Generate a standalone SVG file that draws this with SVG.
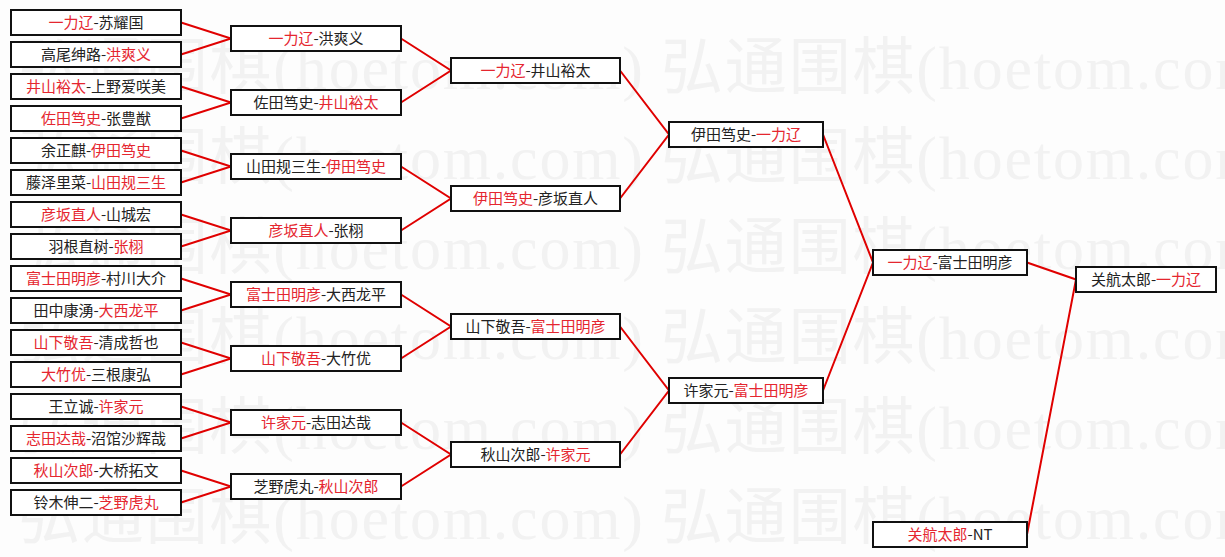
<svg xmlns="http://www.w3.org/2000/svg" width="1225" height="557" viewBox="0 0 1225 557">
<style>
.bg{fill:#fdfdfd}
.wm{font-family:"Liberation Serif","Noto Sans CJK SC",serif;font-size:62px;fill:#f2f2f2}
.box{fill:#ffffff;stroke:#111111;stroke-width:2}
.t{font-family:"Noto Sans CJK SC","Noto Sans CJK JP",sans-serif;font-size:15px;fill:#222222;text-anchor:middle}
.r{fill:#e5262f}
.ln{stroke:#e00000;stroke-width:2;fill:none}
</style>
<rect class="bg" x="0" y="0" width="1225" height="557"/>
<g id="watermark">
<text class="wm" x="18" y="89" textLength="625" lengthAdjust="spacing">弘通围棋(hoetom.com)</text>
<text class="wm" x="661" y="89" textLength="625" lengthAdjust="spacing">弘通围棋(hoetom.com)</text>
<text class="wm" x="18" y="179" textLength="625" lengthAdjust="spacing">弘通围棋(hoetom.com)</text>
<text class="wm" x="661" y="179" textLength="625" lengthAdjust="spacing">弘通围棋(hoetom.com)</text>
<text class="wm" x="18" y="269" textLength="625" lengthAdjust="spacing">弘通围棋(hoetom.com)</text>
<text class="wm" x="661" y="269" textLength="625" lengthAdjust="spacing">弘通围棋(hoetom.com)</text>
<text class="wm" x="18" y="359" textLength="625" lengthAdjust="spacing">弘通围棋(hoetom.com)</text>
<text class="wm" x="661" y="359" textLength="625" lengthAdjust="spacing">弘通围棋(hoetom.com)</text>
<text class="wm" x="18" y="449" textLength="625" lengthAdjust="spacing">弘通围棋(hoetom.com)</text>
<text class="wm" x="661" y="449" textLength="625" lengthAdjust="spacing">弘通围棋(hoetom.com)</text>
<text class="wm" x="18" y="539" textLength="625" lengthAdjust="spacing">弘通围棋(hoetom.com)</text>
<text class="wm" x="661" y="539" textLength="625" lengthAdjust="spacing">弘通围棋(hoetom.com)</text>
</g>
<g id="connectors">
<path class="ln" d="M181,22.5L231,38.5L181,54.5"/>
<path class="ln" d="M181,86.5L231,102.5L181,118.5"/>
<path class="ln" d="M181,150.5L231,166.5L181,182.5"/>
<path class="ln" d="M181,214.5L231,230.5L181,246.5"/>
<path class="ln" d="M181,278.5L231,294.5L181,310.5"/>
<path class="ln" d="M181,342.5L231,358.5L181,374.5"/>
<path class="ln" d="M181,406.5L231,422.5L181,438.5"/>
<path class="ln" d="M181,470.5L231,486.5L181,502.5"/>
<path class="ln" d="M401,38.5L451,70.5L401,102.5"/>
<path class="ln" d="M401,166.5L451,198.5L401,230.5"/>
<path class="ln" d="M401,294.5L451,326.5L401,358.5"/>
<path class="ln" d="M401,422.5L451,454.5L401,486.5"/>
<path class="ln" d="M620,70.5L669,134.5L620,198.5"/>
<path class="ln" d="M620,326.5L669,390.5L620,454.5"/>
<path class="ln" d="M823,134.5L873,262.5L823,390.5"/>
<path class="ln" d="M1027,262.5L1076,279.5L1027,534.5"/>
</g>
<g id="r1-1"><rect class="box" x="11" y="10" width="170" height="25"/><text class="t" x="96" y="27.5"><tspan class="r">一力辽</tspan>-苏耀国</text></g>
<g id="r1-2"><rect class="box" x="11" y="42" width="170" height="25"/><text class="t" x="96" y="59.5">高尾绅路-<tspan class="r">洪爽义</tspan></text></g>
<g id="r1-3"><rect class="box" x="11" y="74" width="170" height="25"/><text class="t" x="96" y="91.5"><tspan class="r">井山裕太</tspan>-上野爱咲美</text></g>
<g id="r1-4"><rect class="box" x="11" y="106" width="170" height="25"/><text class="t" x="96" y="123.5"><tspan class="r">佐田笃史</tspan>-张豊猷</text></g>
<g id="r1-5"><rect class="box" x="11" y="138" width="170" height="25"/><text class="t" x="96" y="155.5">余正麒-<tspan class="r">伊田笃史</tspan></text></g>
<g id="r1-6"><rect class="box" x="11" y="170" width="170" height="25"/><text class="t" x="96" y="187.5">藤泽里菜-<tspan class="r">山田规三生</tspan></text></g>
<g id="r1-7"><rect class="box" x="11" y="202" width="170" height="25"/><text class="t" x="96" y="219.5"><tspan class="r">彦坂直人</tspan>-山城宏</text></g>
<g id="r1-8"><rect class="box" x="11" y="234" width="170" height="25"/><text class="t" x="96" y="251.5">羽根直树-<tspan class="r">张栩</tspan></text></g>
<g id="r1-9"><rect class="box" x="11" y="266" width="170" height="25"/><text class="t" x="96" y="283.5"><tspan class="r">富士田明彦</tspan>-村川大介</text></g>
<g id="r1-10"><rect class="box" x="11" y="298" width="170" height="25"/><text class="t" x="96" y="315.5">田中康湧-<tspan class="r">大西龙平</tspan></text></g>
<g id="r1-11"><rect class="box" x="11" y="330" width="170" height="25"/><text class="t" x="96" y="347.5"><tspan class="r">山下敬吾</tspan>-清成哲也</text></g>
<g id="r1-12"><rect class="box" x="11" y="362" width="170" height="25"/><text class="t" x="96" y="379.5"><tspan class="r">大竹优</tspan>-三根康弘</text></g>
<g id="r1-13"><rect class="box" x="11" y="394" width="170" height="25"/><text class="t" x="96" y="411.5">王立诚-<tspan class="r">许家元</tspan></text></g>
<g id="r1-14"><rect class="box" x="11" y="426" width="170" height="25"/><text class="t" x="96" y="443.5"><tspan class="r">志田达哉</tspan>-沼馆沙辉哉</text></g>
<g id="r1-15"><rect class="box" x="11" y="458" width="170" height="25"/><text class="t" x="96" y="475.5"><tspan class="r">秋山次郎</tspan>-大桥拓文</text></g>
<g id="r1-16"><rect class="box" x="11" y="490" width="170" height="25"/><text class="t" x="96" y="507.5">铃木伸二-<tspan class="r">芝野虎丸</tspan></text></g>
<g id="r2-1"><rect class="box" x="231" y="26" width="170" height="25"/><text class="t" x="316" y="43.5"><tspan class="r">一力辽</tspan>-洪爽义</text></g>
<g id="r2-2"><rect class="box" x="231" y="90" width="170" height="25"/><text class="t" x="316" y="107.5">佐田笃史-<tspan class="r">井山裕太</tspan></text></g>
<g id="r2-3"><rect class="box" x="231" y="154" width="170" height="25"/><text class="t" x="316" y="171.5">山田规三生-<tspan class="r">伊田笃史</tspan></text></g>
<g id="r2-4"><rect class="box" x="231" y="218" width="170" height="25"/><text class="t" x="316" y="235.5"><tspan class="r">彦坂直人</tspan>-张栩</text></g>
<g id="r2-5"><rect class="box" x="231" y="282" width="170" height="25"/><text class="t" x="316" y="299.5"><tspan class="r">富士田明彦</tspan>-大西龙平</text></g>
<g id="r2-6"><rect class="box" x="231" y="346" width="170" height="25"/><text class="t" x="316" y="363.5"><tspan class="r">山下敬吾</tspan>-大竹优</text></g>
<g id="r2-7"><rect class="box" x="231" y="410" width="170" height="25"/><text class="t" x="316" y="427.5"><tspan class="r">许家元</tspan>-志田达哉</text></g>
<g id="r2-8"><rect class="box" x="231" y="474" width="170" height="25"/><text class="t" x="316" y="491.5">芝野虎丸-<tspan class="r">秋山次郎</tspan></text></g>
<g id="r3-1"><rect class="box" x="451" y="58" width="169" height="25"/><text class="t" x="535.5" y="75.5"><tspan class="r">一力辽</tspan>-井山裕太</text></g>
<g id="r3-2"><rect class="box" x="451" y="186" width="169" height="25"/><text class="t" x="535.5" y="203.5"><tspan class="r">伊田笃史</tspan>-彦坂直人</text></g>
<g id="r3-3"><rect class="box" x="451" y="314" width="169" height="25"/><text class="t" x="535.5" y="331.5">山下敬吾-<tspan class="r">富士田明彦</tspan></text></g>
<g id="r3-4"><rect class="box" x="451" y="442" width="169" height="25"/><text class="t" x="535.5" y="459.5">秋山次郎-<tspan class="r">许家元</tspan></text></g>
<g id="r4-1"><rect class="box" x="669" y="122" width="154" height="25"/><text class="t" x="746" y="139.5">伊田笃史-<tspan class="r">一力辽</tspan></text></g>
<g id="r4-2"><rect class="box" x="669" y="378" width="154" height="25"/><text class="t" x="746" y="395.5">许家元-<tspan class="r">富士田明彦</tspan></text></g>
<g id="r5"><rect class="box" x="873" y="250" width="154" height="25"/><text class="t" x="950" y="267.5"><tspan class="r">一力辽</tspan>-富士田明彦</text></g>
<g id="nt"><rect class="box" x="873" y="522" width="154" height="25"/><text class="t" x="950" y="539.5"><tspan class="r">关航太郎</tspan>-NT</text></g>
<g id="final"><rect class="box" x="1076" y="267" width="140" height="25"/><text class="t" x="1146" y="284.5">关航太郎-<tspan class="r">一力辽</tspan></text></g>
</svg>
